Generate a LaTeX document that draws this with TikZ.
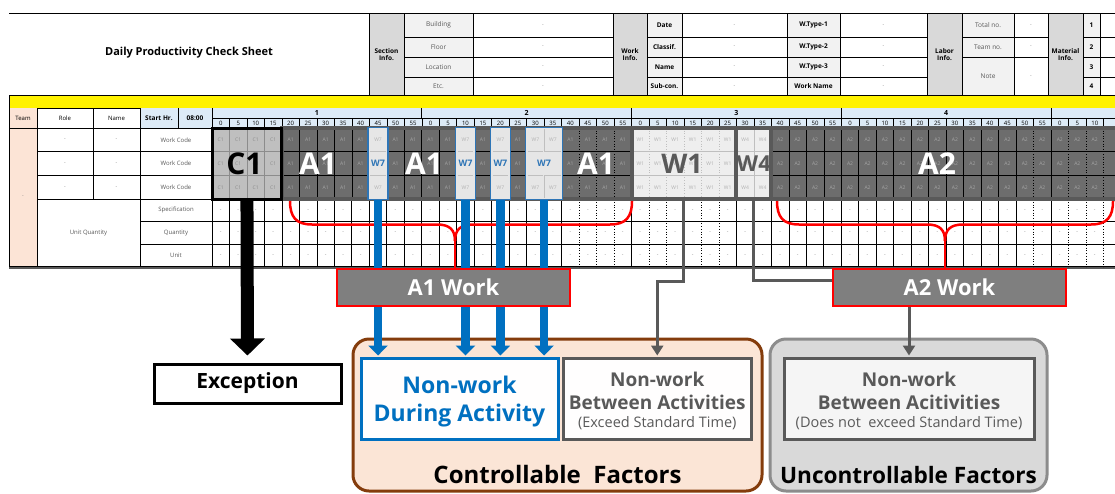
\documentclass[tikz,border=0pt]{standalone}
\usepackage{fontspec}
\setmainfont{Open Sans}
\usetikzlibrary{arrows.meta}
\pgfdeclarelayer{fg}
\pgfsetlayers{main,fg}
\definecolor{hdrgray}{HTML}{D9D9D9}
\definecolor{lblgray}{HTML}{F2F2F2}
\definecolor{txtgray}{HTML}{595959}
\definecolor{dashgray}{HTML}{808080}
\definecolor{ltblue}{HTML}{DDEBF7}
\definecolor{peach}{HTML}{FCE4D6}
\definecolor{cfill}{HTML}{BFBFBF}
\definecolor{clab}{HTML}{8C8C8C}
\definecolor{cline}{HTML}{8C8C8C}
\definecolor{afill}{HTML}{6D6D6D}
\definecolor{alab}{HTML}{A6A6A6}
\definecolor{wfill}{HTML}{EEEEEE}
\definecolor{wlab}{HTML}{B0B0B0}
\definecolor{wline}{HTML}{BFBFBF}
\definecolor{wsfill}{HTML}{E6E6E6}
\definecolor{bluec}{HTML}{0070C0}
\definecolor{wblue}{HTML}{2E75B6}
\definecolor{brownc}{HTML}{843C0C}
\definecolor{ctrlfill}{HTML}{FBE5D6}
\definecolor{dkgray}{HTML}{595959}
\definecolor{boxgray}{HTML}{7F7F7F}
\definecolor{ucfill}{HTML}{D9D9D9}
\definecolor{ucline}{HTML}{8C8C8C}
\def\gx{212}
\def\gcw{17.48}
\def\grh{23.7}
\def\guh{22.5}
\def\gty{128}
\def\guy{199.1}
\tikzset{
 tl/.style={draw=black, line width=0.7pt},
 hb/.style={font=\fontsize{6.5}{7.5}\selectfont\bfseries, text=black, inner sep=0pt, align=center},
 hl/.style={font=\fontsize{6.5}{7.5}\selectfont, text=txtgray, inner sep=0pt},
 dl/.style={font=\fontsize{5}{5}\selectfont, text=dashgray, inner sep=0pt},
 ml/.style={font=\fontsize{6}{6}\selectfont, text=black, inner sep=0pt},
 cl/.style={font=\fontsize{5}{5}\selectfont, inner sep=0pt},
 big/.style={font=\fontsize{30}{30}\selectfont\bfseries, inner sep=0pt},
 blk/.style={draw=dkgray, line width=4pt, inner sep=0pt, minimum height=71.1pt},
 w7/.style={draw=wblue, line width=1.4pt, fill=wsfill, inner sep=0pt, minimum height=72pt, text=wblue, font=\fontsize{9}{9}\selectfont\bfseries},
 barr/.style={draw=bluec, line width=8.5pt, -{Triangle[width=19pt,length=10pt]}, shorten >=1pt},
 garr/.style={draw=dkgray, line width=3pt, -{Triangle[width=12pt,length=10pt]}, shorten >=1pt},
 gcon/.style={draw=dkgray, line width=3pt},
 karr/.style={draw=black, line width=13pt, -{Triangle[width=34pt,length=17pt]}, shorten >=7pt},
 brc/.style={draw=red, line width=2.5pt},
 wkbox/.style={fill=boxgray, draw=red, line width=2.5pt, text=white, font=\fontsize{22}{22}\selectfont\bfseries, minimum width=233pt, minimum height=37pt, inner sep=0pt},
 exbox/.style={fill=white, draw=black, line width=3pt, font=\fontsize{21}{21}\selectfont\bfseries, minimum width=187pt, minimum height=39pt, inner sep=0pt},
 ctrlbox/.style={fill=ctrlfill, draw=brownc, line width=3pt, rounded corners=16pt, minimum height=152pt, inner sep=0pt},
 ucbox/.style={fill=ucfill, draw=ucline, line width=3pt, rounded corners=16pt, minimum height=152pt, inner sep=0pt},
 ttl/.style={font=\fontsize{23}{23}\selectfont\bfseries, text=black, inner sep=0pt, anchor=base},
 ndabox/.style={fill=white!97!ctrlfill, draw=bluec, line width=3pt, minimum height=81pt, inner sep=0pt},
 nbwbox/.style={fill=white!97!ctrlfill, draw=dkgray, line width=3pt, minimum height=81pt, inner sep=0pt},
 nt1/.style={font=\fontsize{23}{23}\selectfont\bfseries, text=bluec, inner sep=0pt, anchor=base},
 nt2/.style={font=\fontsize{19}{19}\selectfont\bfseries, text=dkgray, inner sep=0pt, anchor=base},
 nt3/.style={font=\fontsize{14.5}{14.5}\selectfont, text=dkgray, inner sep=0pt, anchor=base},
}
\newcommand\wcells[5]{%
 \foreach \c in {#1}{\foreach \r in {0,1,2}{
   \fill[#2] ({\gx+\c*\gcw},{\gty+\r*\grh}) rectangle ++(\gcw,\grh);
   \ifnum\c<51 \node[cl,text=#4] (wc-\c-\r) at ({\gx+(\c+0.5)*\gcw},{\gty+(\r+0.5)*\grh}) {#3};\fi
   \ifnum\r>0 \draw[draw=#5, line width=0.6pt] ({\gx+\c*\gcw},{\gty+\r*\grh}) -- ++(\gcw,0);\fi
 }}}
\begin{document}
\begin{tikzpicture}[x=1pt,y=-1pt]
\useasboundingbox (0,0) rectangle (1115,493);
\clip (0,0) rectangle (1115,493);
\fill[white] (0,0) rectangle (1115,493);
% ---------- header ----------
\fill[hdrgray] (369,13.5) rectangle (404,95.5);
\fill[lblgray] (404,13.5) rectangle (473,95.5);
\fill[hdrgray] (613,13.5) rectangle (647,95.5);
\fill[lblgray] (647,13.5) rectangle (682,95.5);
\fill[lblgray] (787,13.5) rectangle (840,95.5);
\fill[hdrgray] (927,13.5) rectangle (962,95.5);
\fill[lblgray] (962,13.5) rectangle (1014,95.5);
\fill[hdrgray] (1048,13.5) rectangle (1083,95.5);
\fill[lblgray] (1083,13.5) rectangle (1100,95.5);
\node[font=\fontsize{11}{12}\selectfont\bfseries, inner sep=0pt] (title) at (189,53) {Daily Productivity Check Sheet};
\node[hb] (secinfo) at (386.5,54.5) {Section\\Info.};
\node[hb] (wkinfo) at (630,54.5) {Work\\Info.};
\node[hb] (lbinfo) at (944.5,54.5) {Labor\\Info.};
\node[hb] (mtinfo) at (1065.5,54.5) {Material\\Info.};
\foreach \t/\y/\n in {Building/25.25/1,Floor/47/2,Location/67/3,Etc./86.25/4}{
  \node[hl] (sl\n) at (438.5,\y) {\t};
  \node[dl] (sv\n) at (543,\y) {-};}
\foreach \t/\y/\n in {Date/25.25/1,Classif./47/2,Name/67/3,Sub-con./86.25/4}{
  \node[hb] (wl\n) at (664.5,\y) {\t};
  \node[dl] (wv\n) at (734.5,\y) {-};}
\foreach \t/\y/\n in {W.Type-1/25.25/1,W.Type-2/47/2,W.Type-3/67/3,Work Name/86.25/4}{
  \node[hb] (tl\n) at (813.5,\y) {\t};
  \node[dl] (tv\n) at (883.5,\y) {-};}
\foreach \t/\y/\n in {Total no./25.25/1,Team no./47/2,Note/76.25/3}{
  \node[hl] (ll\n) at (988,\y) {\t};
  \node[dl] (lv\n) at (1031,\y) {-};}
\foreach \y/\n in {25.25/1,47/2,67/3,86.25/4}{
  \node[hb] (mn\n) at (1091.5,\y) {\n};}
\foreach \x in {369,404,473,613,647,682,787,840,927,962,1014,1048,1083,1100}
  \draw[tl] (\x,13.5) -- (\x,95.5);
\foreach \y in {37,57}{
  \draw[tl] (404,\y) -- (613,\y);
  \draw[tl] (647,\y) -- (927,\y);
  \draw[tl] (962,\y) -- (1048,\y);
  \draw[tl] (1083,\y) -- (1115,\y);}
\draw[tl] (404,77) -- (613,77);
\draw[tl] (647,77) -- (927,77);
\draw[tl] (1083,77) -- (1115,77);
\draw[tl, line width=1.2pt] (9,13.5) -- (1115,13.5);
% yellow band
\fill[yellow] (9,95.5) rectangle (1115,108);
\draw[tl, line width=1.2pt] (9,95.5) -- (1115,95.5);
\draw[tl] (9,108) -- (1115,108);
% ---------- table left ----------
\fill[peach] (9,108) rectangle (37,266.6);
\fill[ltblue] (140,108) rectangle (1115,128);
\node[hl, text=black, font=\fontsize{6}{6}\selectfont] (hteam) at (23,118) {Team};
\node[hl, text=black, font=\fontsize{6}{6}\selectfont] (hrole) at (65,118) {Role};
\node[hl, text=black, font=\fontsize{6}{6}\selectfont] (hname) at (116.5,118) {Name};
\node[hb] (hstart) at (159,118) {Start Hr.};
\node[hb] (htime) at (195,118) {08:00};
\foreach \y/\n in {139.85/1,163.55/2,187.25/3}{
  \node[dl] (rl\n) at (65,\y) {-};
  \node[dl] (nl\n) at (116.5,\y) {-};
  \node[hl, font=\fontsize{6}{6}\selectfont] (wcl\n) at (176,\y) {Work Code};}
\node[dl] (teamv) at (23,197) {-};
\node[hl, font=\fontsize{6}{6}\selectfont] (uq) at (88.5,232.85) {Unit Quantity};
\node[hl, font=\fontsize{6}{6}\selectfont] (uq1) at (176,210.35) {Specification};
\node[hl, font=\fontsize{6}{6}\selectfont] (uq2) at (176,232.85) {Quantity};
\node[hl, font=\fontsize{6}{6}\selectfont] (uq3) at (176,255.35) {Unit};
% ---------- time header ----------
\foreach \k in {1,...,4}
  \node[hb, font=\fontsize{7}{7}\selectfont\bfseries] (hr\k) at ({\gx+(12*\k-6)*\gcw},113) {\k};
\foreach \k in {0,...,4}
  \draw[tl] ({\gx+12*\k*\gcw},108) -- ++(0,10);
\draw[tl] (212,118) -- (1115,118);
\foreach \c in {0,...,50}{
  \pgfmathtruncatemacro\mm{mod(\c,12)*5}
  \node[ml] (mn-\c) at ({\gx+(\c+0.5)*\gcw},123.3) {\mm};
  \foreach \r in {0,1,2}{
    \node[dl] (ud-\c-\r) at ({\gx+(\c+0.5)*\gcw},{\guy+(\r+0.5)*\guh}) {-};}}
\foreach \b in {1,...,52}
  \draw[draw=black, line width=0.5pt] ({\gx+\b*\gcw},118) -- ++(0,10);
% ---------- work cells ----------
\wcells{0,1,2,3}{cfill}{C1}{clab}{cline}
\wcells{4,5,6,7,8,10,11,12,13,15,17,20,21,22,23}{afill}{A1}{alab}{black}
\wcells{24,25,26,27,28,29}{wfill}{W1}{wlab}{wline}
\wcells{30,31}{wfill}{W4}{wlab}{wline}
\wcells{32,...,52}{afill}{A2}{alab}{black}
\foreach \b in {1,2,3} \draw[draw=cline, line width=0.6pt] ({\gx+\b*\gcw},\gty) -- ++(0,71.1);
\foreach \b in {5,6,7,8,11,12,13} \draw[draw=black, line width=0.6pt] ({\gx+\b*\gcw},\gty) -- ++(0,71.1);
\foreach \b in {33,...,46} \draw[draw=black, line width=0.6pt] ({\gx+\b*\gcw},\gty) -- ++(0,71.1);
\draw[draw=black, line width=0.6pt] ({\gx+48*\gcw},\gty) -- ++(0,71.1);
\foreach \b in {21,22,23,47,49,50,51,52} \draw[draw=black, line width=0.6pt, dotted] ({\gx+\b*\gcw},\gty) -- ++(0,71.1);
\foreach \b in {25,...,29} \draw[draw=wline, line width=0.6pt, dotted] ({\gx+\b*\gcw},\gty) -- ++(0,71.1);
\draw[draw=wline, line width=0.6pt] ({\gx+31*\gcw},\gty) -- ++(0,71.1);
% ---------- unit rows lines ----------
\draw[tl] (37,108) -- (37,266.6);
\draw[tl] (93,108) -- (93,199.1);
\draw[tl] (140,108) -- (140,266.6);
\draw[tl] (178,108) -- (178,128);
\draw[tl] (212,108) -- (212,266.6);
\draw[tl] (9,95.5) -- (9,266.6);
\draw[tl] (9,128) -- (1115,128);
\draw[tl] (37,151.7) -- (212,151.7);
\draw[tl] (37,175.4) -- (212,175.4);
\draw[tl, line width=1.2pt] (37,199.1) -- (1115,199.1);
\draw[tl] (140,221.6) -- (1115,221.6);
\draw[tl] (140,244.1) -- (1115,244.1);
\draw[tl] (9,266.6) -- (1115,266.6);
\draw[draw=dkgray, line width=1.5pt] (9,268.2) -- (1115,268.2);
\foreach \b in {1,...,20} \draw[tl] ({\gx+\b*\gcw},\guy) -- ++(0,67.5);
\foreach \b in {24,30} \draw[tl] ({\gx+\b*\gcw},\guy) -- ++(0,67.5);
\foreach \b in {31,...,46} \draw[tl] ({\gx+\b*\gcw},\guy) -- ++(0,67.5);
\draw[tl] ({\gx+48*\gcw},\guy) -- ++(0,67.5);
\foreach \b in {21,22,23,25,26,27,28,29,47,49,50,51,52} \draw[tl, dotted] ({\gx+\b*\gcw},\guy) -- ++(0,67.5);
% ---------- blocks ----------
\node[blk, minimum width=349.6pt] (a1blk) at (456.72,163.55) {};
\node[blk, minimum width=104.88pt] (w1blk) at (683.96,163.55) {};
\node[blk, minimum width=34.96pt] (w4blk) at (753.88,163.55) {};
\node[blk, minimum width=367.08pt] (a2blk) at (954.9,163.55) {};
\node[draw=black, line width=3pt, minimum width=69.92pt, minimum height=71.1pt, inner sep=0pt] (c1blk) at (246.96,163.55) {};
\node[w7, minimum width=20pt] (w7a) at (378.06,163.55) {W7};
\node[w7, minimum width=20pt] (w7b) at (465.46,163.55) {W7};
\node[w7, minimum width=20pt] (w7c) at (500.42,163.55) {W7};
\node[w7, minimum width=37pt] (w7d) at (544.12,163.55) {W7};
\foreach \c in {9,14,16,18,19}{
  \foreach \r in {0,2}
    \node[cl, text=wlab] (w7l-\c-\r) at ({\gx+(\c+0.5)*\gcw},{\gty+(\r+0.5)*\grh}) {W7};
  \foreach \y in {151.7,175.4}
    \draw[draw=wline, line width=0.5pt] ({\gx+\c*\gcw+1},\y) -- ++({\gcw-2},0);}
\draw[draw=wline, line width=0.5pt] ({\gx+19*\gcw},128.7) -- ++(0,23);
\draw[draw=wline, line width=0.5pt] ({\gx+19*\gcw},175.4) -- ++(0,23);
\node[big, text=black] (bC1) at (244.5,163.55) {C1};
\node[big, text=white] (bA1a) at (318,163.55) {A1};
\node[big, text=white] (bA1b) at (424,163.55) {A1};
\node[big, text=white] (bA1c) at (596,163.55) {A1};
\node[big, text=white] (bA2) at (937,163.55) {A2};
\node[big, font=\fontsize{27}{27}\selectfont\bfseries, text=dkgray] (bW1) at (682,163.55) {W1};
\node[big, font=\fontsize{22}{22}\selectfont\bfseries, text=dkgray] (bW4) at (753.88,163.55) {W4};
% ---------- lower boxes ----------
\node[ctrlbox, minimum width=409pt] (ctrl) at (557.5,415) {};
\node[ucbox, minimum width=277pt] (unctrl) at (908.5,415) {};
\node[ttl, font=\fontsize{24}{24}\selectfont\bfseries] (ctrlt) at (557.5,483.5) {Controllable~ Factors};
\node[ttl, font=\fontsize{22.6}{23}\selectfont\bfseries] (unctrlt) at (908.5,483.5) {Uncontrollable Factors};
\node[ndabox, minimum width=197pt] (nda) at (459.5,398.5) {};
\node[nt1] (nda1) at (459.5,393) {Non-work};
\node[nt1] (nda2) at (459.5,421) {During Activity};
\node[nbwbox, minimum width=187.5pt] (nbw) at (657.25,398.5) {};
\node[nt2] (nbw1) at (657.25,386) {Non-work};
\node[nt2] (nbw2l) at (657.25,409.5) {Between Activities};
\node[nt3] (nbw3) at (657.25,427) {(Exceed Standard Time)};
\node[nbwbox, fill=white!96!black, minimum width=250pt] (nbx) at (909,398.5) {};
\node[nt2] (nbx1) at (909,386) {Non-work};
\node[nt2] (nbx2) at (909,409.5) {Between Acitivities};
\node[nt3] (nbx3) at (909,427) {(Does not~ exceed Standard Time)};
\node[exbox] (exc) at (247.5,383.5) {Exception};
% ---------- work boxes on top ----------
\begin{pgfonlayer}{fg}
\node[wkbox] (a1work) at (453.5,287.5) {A1 Work};
\node[wkbox] (a2work) at (949.5,287.5) {A2 Work};
\end{pgfonlayer}
% ---------- braces ----------
\coordinate (b1tip) at (455,241);
\coordinate (b2tip) at (945,241);
\draw[brc] (290,201) .. controls (290,217) and (296,224.5) .. (312,224.5) -- (437,224.5) .. controls (450,224.5) and (455,230) .. (b1tip);
\draw[brc] (632,201) .. controls (632,217) and (626,224.5) .. (610,224.5) -- (473,224.5) .. controls (460,224.5) and (455,230) .. (b1tip);
\draw[brc] (b1tip) -- (b1tip |- a1work.north);
\draw[brc] (777,201) .. controls (777,217) and (783,224.5) .. (799,224.5) -- (927,224.5) .. controls (940,224.5) and (945,230) .. (b2tip);
\draw[brc] (1113,201) .. controls (1113,217) and (1107,224.5) .. (1091,224.5) -- (963,224.5) .. controls (950,224.5) and (945,230) .. (b2tip);
\draw[brc] (b2tip) -- (b2tip |- a2work.north);
% ---------- arrows ----------
\draw[barr] (w7a.south) -- (w7a.south |- nda.north);
\draw[barr] (w7b.south) -- (w7b.south |- nda.north);
\draw[barr] (w7c.south) -- (w7c.south |- nda.north);
\draw[barr] (w7d.south) -- (w7d.south |- nda.north);
\draw[karr] (c1blk.south) -- (exc.north);
\coordinate (bend1) at (683.96,281);
\coordinate (bend2) at (753.88,280);
\draw[garr] (w1blk.south) -- (bend1) -| (nbw.north);
\draw[gcon] (w4blk.south) -- (bend2) -- (bend2 -| a2work.west);
\draw[garr] (a2work.south -| nbx.north) -- (nbx.north);
\end{tikzpicture}
\end{document}
